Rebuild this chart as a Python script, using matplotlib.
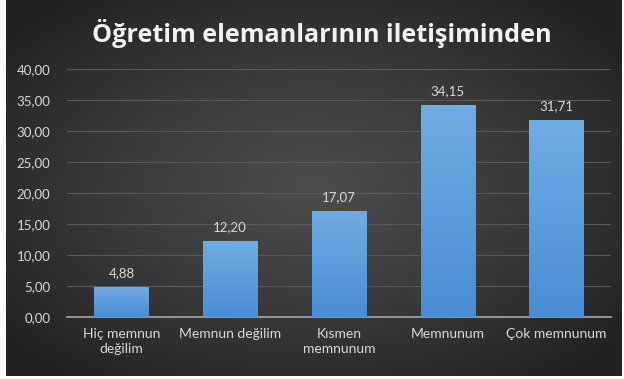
import numpy as np
import matplotlib
matplotlib.use("Agg")
import matplotlib.pyplot as plt
from matplotlib.colors import LinearSegmentedColormap

categories = ["Hiç memnun\ndeğilim", "Memnun değilim", "Kısmen\nmemnunum", "Memnunum", "Çok memnunum"]
values = [4.88, 12.20, 17.07, 34.15, 31.71]
yticks = [0, 5, 10, 15, 20, 25, 30, 35, 40]
title = "Öğretim elemanlarının iletişiminden"

W, H = 624, 379
fig = plt.figure(figsize=(W / 100, H / 100), dpi=100, facecolor="white")

# background panel with radial gradient
bx0, bx1, by_top, by_bot = 6, 622, 0, 376
bg = fig.add_axes([bx0 / W, 1 - by_bot / H, (bx1 - bx0) / W, (by_bot - by_top) / H])
yy, xx = np.mgrid[-1:1:200j, -1:1:300j]
r = np.sqrt((xx * 1.0) ** 2 + (yy * 1.0) ** 2)
r = np.clip(r / 1.3, 0, 1)
bgcmap = LinearSegmentedColormap.from_list("bg", ["#4d4d4d", "#3a3a3a", "#222222"])
bg.imshow(r, cmap=bgcmap, aspect="auto", extent=[0, 1, 0, 1], vmin=0, vmax=1)
bg.set_axis_off()

# plot area
px0, px1, py40, py0 = 67, 611, 69, 317
ax = fig.add_axes([px0 / W, 1 - py0 / H, (px1 - px0) / W, (py0 - py40) / H])
ax.set_facecolor("none")
x = np.arange(len(categories))

barcmap = LinearSegmentedColormap.from_list("bar", ["#4a8dd4", "#70ace4"])
grad = np.linspace(0, 1, 100).reshape(-1, 1)
bars = ax.bar(x, values, width=0.5, color="#5b9bd5", zorder=2)
for b, v in zip(bars, values):
    bx, bw = b.get_x(), b.get_width()
    im = ax.imshow(grad, cmap=barcmap, origin="lower", aspect="auto",
                   extent=[bx, bx + bw, 0, v], zorder=3)
    im.set_clip_path(b)
    ax.text(b.get_x() + bw / 2, v + 1.3, f"{v:.2f}".replace(".", ","),
            ha="center", va="bottom", color="#d9d9d9", fontsize=9.5,
            family="Lato", zorder=4)
ax.set_xlim(-0.5, len(categories) - 0.5)
ax.set_ylim(0, 40)

ax.set_yticks(yticks)
ax.set_yticklabels([f"{t:.2f}".replace(".", ",") for t in yticks],
                   color="#d9d9d9", fontsize=9.5, family="Lato")
ax.set_xticks(x)
ax.set_xticklabels(categories, color="#d9d9d9", fontsize=10, family="Lato",
                   linespacing=1.25)
ax.tick_params(axis="both", length=0)
ax.tick_params(axis="y", pad=12)
ax.tick_params(axis="x", pad=8)
ax.grid(axis="y", color="#5a5a5a", linewidth=0.8, zorder=0)
ax.set_axisbelow(True)
for s in ["top", "right", "left"]:
    ax.spines[s].set_visible(False)
ax.spines["bottom"].set_color("#a6a6a6")
ax.spines["bottom"].set_linewidth(1.2)

fig.text(322 / W, 1 - 33 / H, title, ha="center", va="center",
         color="#f2f2f2", fontsize=18.2, family="Open Sans", fontweight="bold")

fig.savefig("out.png", dpi=100, facecolor="white")
